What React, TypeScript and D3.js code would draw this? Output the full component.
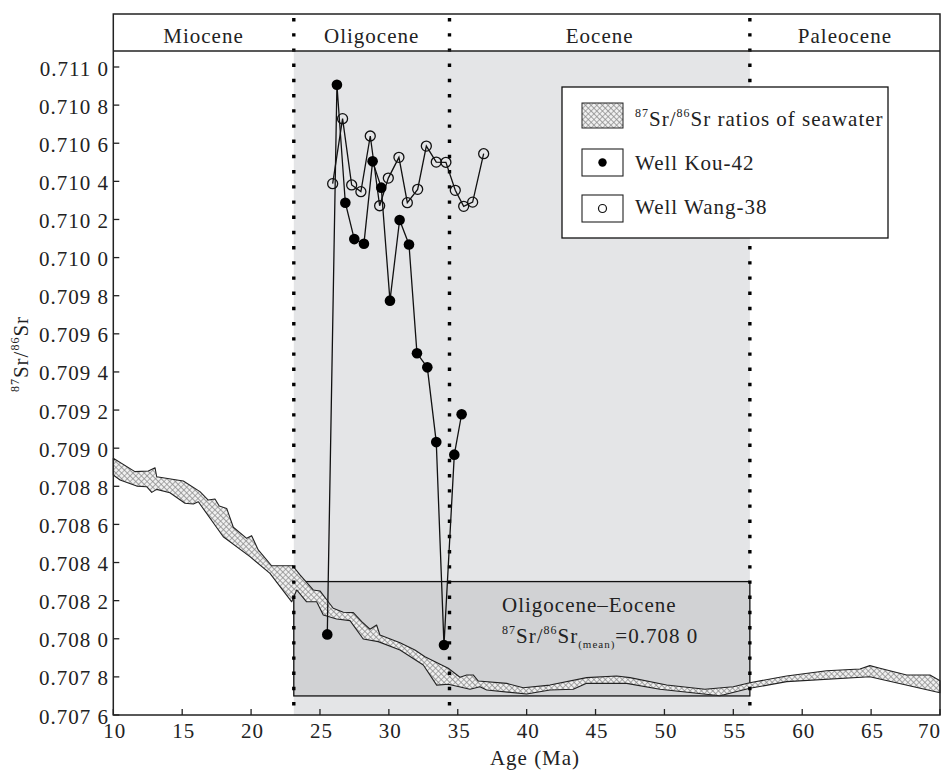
import React from "react";
import * as d3 from "d3";

// ---------- data ----------
const periodNames = ["Miocene", "Oligocene", "Eocene", "Paleocene"];
const periodBounds = [10, 23.1, 34.4, 56.2, 70];

const meanBoxAges = [23.1, 56.2];
const meanBoxValues = [0.7077, 0.7083];
const meanLabel = "0.708 0";

const kouAges = [25.53, 26.23, 26.84, 27.49, 28.19, 28.82, 29.45, 30.08, 30.78, 31.46, 32.04, 32.79, 33.44, 34.0, 34.75, 35.28];
const kouValues = [0.708023, 0.710907, 0.710288, 0.710097, 0.710073, 0.710505, 0.710367, 0.709774, 0.710197, 0.710069, 0.709498, 0.709424, 0.709032, 0.707967, 0.708966, 0.709178];

const wangAges = [25.92, 26.64, 27.3, 27.97, 28.65, 29.33, 29.96, 30.73, 31.34, 32.09, 32.72, 33.44, 34.14, 34.82, 35.43, 36.08, 36.88];
const wangValues = [0.710388, 0.710729, 0.710381, 0.710346, 0.710638, 0.710272, 0.710417, 0.710526, 0.710288, 0.710358, 0.710585, 0.710501, 0.7105, 0.710353, 0.710269, 0.710291, 0.710545];

const seaUpper: [number, number][] = [
  [10.0, 0.708947], [11.57, 0.708877], [12.54, 0.70888], [13.03, 0.708897], [13.15, 0.70885],
  [15.08, 0.708828], [16.29, 0.708772], [16.89, 0.708728], [17.38, 0.708733], [17.69, 0.708697],
  [18.23, 0.708684], [18.71, 0.708585], [19.68, 0.708527], [20.04, 0.708541], [20.52, 0.708466],
  [21.49, 0.708383], [23.02, 0.708383], [23.55, 0.708335], [24.51, 0.708256], [25.0, 0.708251],
  [25.6, 0.708194], [25.96, 0.70816], [26.69, 0.708139], [27.42, 0.708137], [28.03, 0.70809],
  [28.63, 0.70805], [29.11, 0.708072], [29.35, 0.70802], [30.81, 0.707979], [31.89, 0.707941],
  [32.62, 0.707906], [34.31, 0.707845], [35.16, 0.707798], [35.65, 0.70781], [36.12, 0.70781],
  [36.49, 0.707778], [38.55, 0.707766], [39.75, 0.707743], [41.69, 0.707757], [44.35, 0.707796],
  [46.53, 0.707805], [47.5, 0.707796], [50.16, 0.707757], [52.94, 0.707735], [54.99, 0.707748],
  [56.2, 0.707769], [58.87, 0.707805], [61.77, 0.707832], [64.19, 0.707841], [64.91, 0.707859],
  [65.64, 0.707845], [67.58, 0.70781], [69.27, 0.70781], [70.0, 0.70778],
];
const seaLower: [number, number][] = [
  [10.0, 0.708859], [10.49, 0.708833], [11.7, 0.708801], [12.42, 0.708798], [12.79, 0.708768],
  [13.15, 0.708784], [14.11, 0.708766], [15.2, 0.708711], [15.81, 0.708707], [16.17, 0.708719],
  [17.98, 0.708535], [19.92, 0.708431], [21.37, 0.708343], [22.95, 0.708194], [23.31, 0.708256],
  [24.03, 0.708194], [24.76, 0.708194], [25.24, 0.708125], [26.21, 0.708104], [27.18, 0.708095],
  [28.14, 0.707999], [29.23, 0.707985], [30.81, 0.707941], [32.5, 0.707862], [33.47, 0.707757],
  [34.31, 0.707761], [35.89, 0.707735], [36.61, 0.707748], [37.1, 0.707731], [40.0, 0.70771],
  [41.69, 0.707731], [43.38, 0.707735], [44.35, 0.707766], [47.26, 0.707766], [49.67, 0.707735],
  [54.03, 0.707701], [56.2, 0.70774], [58.87, 0.707775], [64.91, 0.707801], [70.0, 0.707717],
];

const xTicks = [10, 15, 20, 25, 30, 35, 40, 45, 50, 55, 60, 65, 70];
const yTicks = [0.7076, 0.7078, 0.708, 0.7082, 0.7084, 0.7086, 0.7088, 0.709, 0.7092, 0.7094, 0.7096, 0.7098, 0.71, 0.7102, 0.7104, 0.7106, 0.7108, 0.711];

// ---------- layout ----------
const W = 950;
const H = 772;
const left = 113.3;
const right = 940;
const headerTop = 14;
const headerBottom = 51;
const bottom = 715;
const FONT = "'Liberation Serif', 'Times New Roman', serif";
const FS = 21;
const LS = 1;

const fmtY = (v: number) => {
  const s = v.toFixed(4);
  return s.slice(0, 5) + " " + s.slice(5);
};

export default function App() {
  const x = d3.scaleLinear().domain([10, 70]).range([left, right]);
  const y = d3.scaleLinear().domain([0.7076, 0.711]).range([bottom, 67]);

  const lineGen = d3
    .line<[number, number]>()
    .x((d) => x(d[0]))
    .y((d) => y(d[1]));

  const bandPts: [number, number][] = [...seaUpper, ...[...seaLower].reverse()];
  const bandPath = lineGen(bandPts) + "Z";

  const kouPts: [number, number][] = kouAges.map((a, i) => [a, kouValues[i]]);
  const wangPts: [number, number][] = wangAges.map((a, i) => [a, wangValues[i]]);

  const dotted = periodBounds.slice(1, -1);

  const textStyle = { fontFamily: FONT, fontSize: FS, letterSpacing: LS, fill: "#222" } as const;

  return (
    <svg
      width={W}
      height={H}
      style={{ position: "absolute", left: 0, top: 0, background: "#fff" }}
    >
      <defs>
        <pattern id="hatch" width="4" height="4" patternUnits="userSpaceOnUse" patternTransform="rotate(45)">
          <rect width="4" height="4" fill="#f0f0f0" />
          <path d="M0 0 L0 4 M0 0 L4 0" stroke="#868686" strokeWidth="1.3" />
        </pattern>
      </defs>

      {/* light gray region */}
      <rect
        x={x(periodBounds[1])}
        y={headerBottom}
        width={x(periodBounds[3]) - x(periodBounds[1])}
        height={bottom - headerBottom}
        fill="#e4e5e7"
      />
      {/* mean box */}
      <rect
        x={x(meanBoxAges[0])}
        y={y(meanBoxValues[1])}
        width={x(meanBoxAges[1]) - x(meanBoxAges[0])}
        height={y(meanBoxValues[0]) - y(meanBoxValues[1])}
        fill="#d1d2d4"
        stroke="#111"
        strokeWidth={1.3}
      />
      <text x={502} y={612} style={textStyle}>Oligocene–Eocene</text>
      <text x={502} y={643} style={textStyle}>
        <tspan fontSize={12} dy={-9}>87</tspan>
        <tspan dy={9}>Sr/</tspan>
        <tspan fontSize={12} dy={-9}>86</tspan>
        <tspan dy={9}>Sr</tspan>
        <tspan fontSize={11} dy={5}>(mean)</tspan>
        <tspan dy={-5}>={meanLabel}</tspan>
      </text>

      {/* seawater band */}
      <path d={bandPath} fill="url(#hatch)" stroke="#222" strokeWidth={1.1} strokeLinejoin="round" />

      {/* dotted period boundaries */}
      {dotted.map((b) => (
        <line
          key={b}
          x1={x(b)}
          x2={x(b)}
          y1={headerTop + 4}
          y2={bottom}
          stroke="#000"
          strokeWidth={3.4}
          strokeDasharray="3.4 11.8"
        />
      ))}

      {/* Kou-42 */}
      <path d={lineGen(kouPts) || ""} fill="none" stroke="#111" strokeWidth={1.3} />
      {/* Wang-38 */}
      <path d={lineGen(wangPts) || ""} fill="none" stroke="#111" strokeWidth={1.3} />
      {kouPts.map((d, i) => (
        <circle key={"k" + i} cx={x(d[0])} cy={y(d[1])} r={5.3} fill="#000" />
      ))}
      {wangPts.map((d, i) => (
        <circle key={"w" + i} cx={x(d[0])} cy={y(d[1])} r={5} fill="none" stroke="#111" strokeWidth={1.3} />
      ))}

      {/* legend */}
      <rect x={562} y={87} width={326} height={151} fill="#fff" stroke="#111" strokeWidth={1.3} />
      <rect x={582} y={103} width={41} height={25} fill="url(#hatch)" stroke="#222" strokeWidth={1} />
      <text x={635} y={126} style={textStyle}>
        <tspan fontSize={12} dy={-9}>87</tspan>
        <tspan dy={9}>Sr/</tspan>
        <tspan fontSize={12} dy={-9}>86</tspan>
        <tspan dy={9}>Sr ratios of seawater</tspan>
      </text>
      <rect x={582} y={149} width={41} height={27} fill="#fff" stroke="#222" strokeWidth={1.1} />
      <circle cx={602.5} cy={162.5} r={4.2} fill="#000" />
      <text x={635} y={170} style={textStyle}>Well Kou-42</text>
      <rect x={582} y={195} width={41} height={27} fill="#fff" stroke="#222" strokeWidth={1.1} />
      <circle cx={602.5} cy={208.5} r={4} fill="none" stroke="#111" strokeWidth={1.2} />
      <text x={635} y={214} style={textStyle}>Well Wang-38</text>

      {/* header */}
      <line x1={left} x2={right} y1={headerBottom} y2={headerBottom} stroke="#222" strokeWidth={1.4} />
      {periodNames.map((n, i) => (
        <text
          key={n}
          x={x((periodBounds[i] + periodBounds[i + 1]) / 2)}
          y={43}
          textAnchor="middle"
          style={textStyle}
        >
          {n}
        </text>
      ))}

      {/* frame */}
      <rect x={left} y={headerTop} width={right - left} height={bottom - headerTop} fill="none" stroke="#222" strokeWidth={1.5} />

      {/* y axis ticks */}
      {yTicks.map((t) => (
        <g key={t}>
          <line x1={left} x2={left + 6} y1={y(t)} y2={y(t)} stroke="#222" strokeWidth={1.3} />
          <text x={109} y={y(t) + 8.5} textAnchor="end" style={textStyle}>
            {fmtY(t)}
          </text>
        </g>
      ))}
      {/* x axis ticks */}
      {xTicks.map((t, i) => {
        const last = i === xTicks.length - 1;
        return (
          <g key={t}>
            <line x1={x(t)} x2={x(t)} y1={bottom} y2={bottom - 6} stroke="#222" strokeWidth={1.3} />
            <text
              x={last ? x(t) + 1 : x(t) + 1.5}
              y={738}
              textAnchor={last ? "end" : "middle"}
              style={textStyle}
            >
              {t}
            </text>
          </g>
        );
      })}

      {/* axis titles */}
      <text x={535} y={765} textAnchor="middle" style={textStyle}>Age (Ma)</text>
      <text transform="translate(28,354) rotate(-90)" textAnchor="middle" style={textStyle}>
        <tspan fontSize={12} dy={-9}>87</tspan>
        <tspan dy={9}>Sr/</tspan>
        <tspan fontSize={12} dy={-9}>86</tspan>
        <tspan dy={9}>Sr</tspan>
      </text>
    </svg>
  );
}
